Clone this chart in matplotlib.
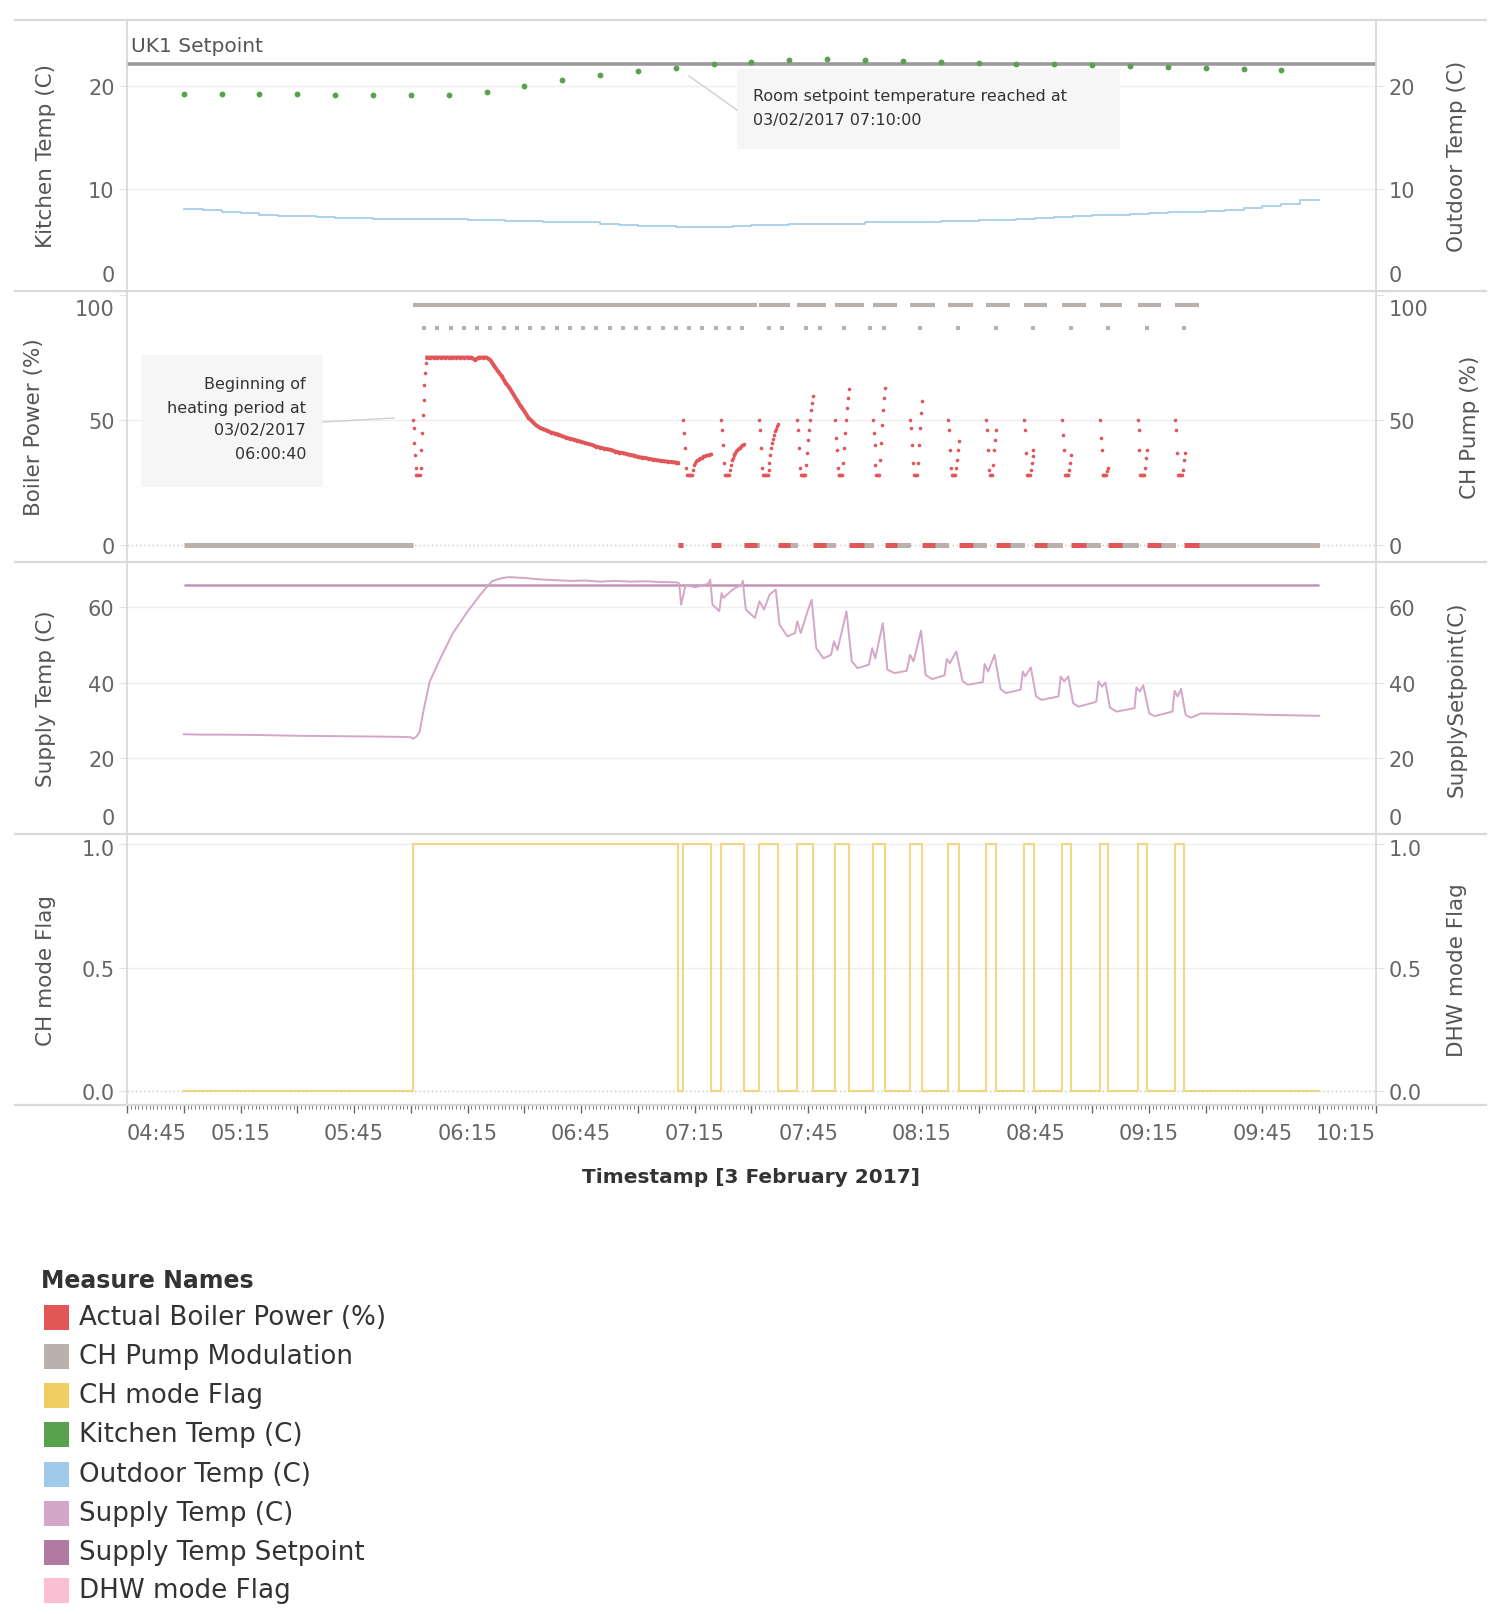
import numpy as np
import matplotlib
matplotlib.use("Agg")
import matplotlib.pyplot as plt
from matplotlib.patches import Rectangle
from matplotlib.lines import Line2D
from matplotlib.transforms import ScaledTranslation

W, H = 1497, 1615

# colours (tableau palette)
c_boiler = '#e15759'
c_pump = '#bab0ac'
c_ch = '#f1ce63'
c_kitchen = '#59a14f'
c_outdoor = '#a0cbe8'
c_supply = '#d4a6c8'
c_setp = '#b07aa1'
c_dhw = '#fabfd2'

# ---- data, time in minutes after midnight (3 Feb 2017) ----
kitchen_t = [300, 310, 320, 330, 340, 350, 360, 370, 380, 390, 400, 410, 420, 430, 440,
             450, 460, 470, 480, 490, 500, 510, 520, 530, 540, 550, 560, 570, 580, 590]
kitchen_v = [19.3, 19.3, 19.3, 19.3, 19.2, 19.2, 19.2, 19.2, 19.5, 20.0, 20.6, 21.1, 21.5, 21.8, 22.2,
             22.4, 22.6, 22.7, 22.6, 22.5, 22.4, 22.3, 22.2, 22.2, 22.1, 22.0, 21.9, 21.8, 21.7, 21.6]
outdoor_t = list(range(300, 605, 5))
outdoor_v = [8.0, 7.9, 7.7, 7.6, 7.4, 7.3, 7.3, 7.2, 7.1, 7.1,
             7.0, 7.0, 7.0, 7.0, 7.0, 6.9, 6.9, 6.8, 6.8, 6.7,
             6.7, 6.7, 6.6, 6.5, 6.4, 6.4, 6.3, 6.3, 6.3, 6.4,
             6.5, 6.5, 6.6, 6.6, 6.6, 6.6, 6.7, 6.7, 6.7, 6.7,
             6.8, 6.8, 6.9, 6.9, 7.0, 7.1, 7.2, 7.3, 7.4, 7.4,
             7.5, 7.6, 7.7, 7.7, 7.8, 7.9, 8.1, 8.3, 8.5, 8.9, 8.9]
uk1_setpoint = 22.2

heat_start = 360.67   # 06:00:40
heat_end = 430.5
data_start = 300
data_end = 600

# boiler power during the long heating period
heat_t = [360.67, 360.8, 360.95, 361.1, 361.25, 361.4, 361.7, 362.0, 362.3,
          362.6, 362.8, 363.0, 363.2, 363.4, 363.6, 363.8, 364.0, 364.3] + list(range(365, 431)) + [430.5]
heat_v = [50, 47, 41, 36, 31, 28, 28, 28, 28,
          31, 38, 45, 52, 58, 64, 69, 73, 75,
          75, 75, 75, 75, 75, 75, 75, 75, 75, 75, 75, 75, 74, 75, 75, 75,
          74, 71.7, 69.5, 67.5, 65, 63, 60.5, 58, 55.5, 53.5,
          51, 49.5, 48, 47, 46.3, 45.8, 45, 44.6, 44.2, 43.5,
          43, 42.5, 42.2, 41.7, 41.3, 40.8, 40.4, 40, 39.3, 39,
          38.6, 38.3, 38, 37.4, 37, 36.8, 36.4, 36, 35.8, 35.2,
          35, 34.8, 34.4, 34.2, 33.9, 33.7, 33.5, 33.3, 33.2, 33,
          32.8]

# on/off cycling after the setpoint was reached
cycle_start = [432, 442, 452, 462, 472, 482, 492, 502, 512, 522, 532, 542, 552, 562]
cycle_width = [7.2, 5.9, 5.0, 4.3, 3.8, 3.4, 3.1, 2.8, 2.7, 2.6, 2.4, 2.2, 2.4, 2.4]
cycle_dt = 0.25
cycle_v = [
    [50, 45, 39, 31, 28, 28, 28, 28, 28, 28, 30, 32, 33, 33.5, 34, 34, 34.5, 34.5, 35, 35,
     35, 35.5, 35.5, 35.5, 36, 36, 36, 36, 36.5, 36.5],
    [50, 46, 40, 33, 28, 28, 28, 28, 28, 30, 32, 34, 35, 36, 36.5, 37, 37.5, 38, 38.5, 39,
     39, 39.5, 40, 40, 40.5],
    [50, 46, 39, 31, 28, 28, 28, 28, 28, 28, 30, 33, 36, 39, 41, 42.5, 44, 45.5, 46.5, 47.5, 48.5],
    [50, 46, 39, 31, 28, 28, 28, 28, 28, 28, 32, 37, 42, 46, 50, 54, 57, 59.5],
    [50, 43, 38, 31, 28, 28, 28, 28, 28, 33, 39, 45, 50, 55, 59, 62.5],
    [50, 45, 40, 32, 28, 28, 28, 28, 34, 41, 48, 54, 59, 63],
    [50, 47, 40, 33, 28, 28, 28, 28, 33, 40, 47, 53, 57.5],
    [50, 46, 38, 31, 28, 28, 28, 28, 31, 34, 38, 41.5],
    [50, 46, 38, 30, 28, 28, 28, 32, 38, 42, 46],
    [50, 46, 37, 28, 28, 28, 28, 30, 33, 35.5, 38],
    [50, 44, 38, 28, 28, 28, 28, 28, 30, 33, 36],
    [50, 43, 38, 28, 28, 28, 28, 28, 29.5, 31],
    [50, 46, 38, 28, 28, 28, 28, 28, 31, 35, 38],
    [50, 46, 37, 28, 28, 28, 28, 28, 30, 34, 37],
]

# CH pump modulation
pump_level = 96
pump_first_end = 451.4
pump_on_min = [8.3, 7.6, 7.6, 6.5, 6.6, 6.4, 6.3, 6.0, 6.3, 5.8, 6.2, 6.3]   # cycles 3..14
pump_dot_level = 87
pump_dot_t = [363.5, 367, 370.5, 374, 377.5, 381, 384.5, 388, 391.5, 395, 398.5, 402, 405.5,
              409, 412.5, 416, 419.5, 423, 426.5, 430, 433.5, 437, 440.5, 444, 447.5,
              454.5, 458.1, 464.4, 468.1, 474.4, 481.4, 485.1, 494.6, 504.5, 514.5,
              524.5, 534.4, 544.2, 554.4, 564.3]

# supply temperature
supply_setpoint = 66
supply_t = [300, 305, 310, 320, 330, 340, 350, 358, 360, 360.6, 361.5, 362.3, 363.4, 365, 367.8,
            371, 374.9, 378.7, 381.4, 383.5, 385.8, 389.6, 394, 398, 402, 406, 410, 414, 418,
            422, 426, 430.3, 430.9, 431.4, 432.6, 435.0, 438.5, 439.1, 439.7, 441.5, 442.1,
            442.6, 445.0, 447.4, 447.7, 448.5, 450.9, 452.1, 453.3, 454.8, 456.4, 457.4, 459.5,
            461.5, 462.1, 463.0, 465.1, 465.9, 467.1, 469.0, 471.0, 471.8, 472.7, 475.1, 476.5,
            478.0, 481.0, 481.9, 482.7, 484.7, 485.9, 487.8, 491.0, 491.9, 492.8, 494.8, 496.0,
            497.7, 501.0, 501.6, 502.4, 504.1, 505.8, 507.2, 511.1, 511.6, 512.5, 514.2, 515.8,
            517.2, 521.1, 521.7, 522.3, 523.8, 525.2, 526.6, 531.1, 531.7, 532.6, 533.7, 535.0,
            536.4, 541.1, 541.7, 542.6, 543.5, 544.7, 546.4, 551.2, 551.7, 552.6, 553.5, 555.1,
            556.5, 561.2, 561.8, 562.6, 563.5, 564.7, 566.1, 568.8, 576.5, 588.3, 598.9, 600]
supply_v = [26.4, 26.3, 26.3, 26.2, 26.0, 25.9, 25.8, 25.7, 25.6, 25.2, 25.8, 27.0, 33.0, 40.4, 46.5,
            53.0, 58.8, 63.8, 66.9, 67.6, 68.0, 67.8, 67.4, 67.2, 67.0, 67.1, 66.8, 67.0, 66.8,
            66.9, 66.7, 66.6, 66.3, 60.7, 65.9, 65.3, 66.2, 67.3, 60.7, 59.0, 63.8,
            62.5, 64.7, 66.0, 67.0, 59.4, 57.2, 61.6, 59.4, 63.4, 64.7, 55.4, 52.3,
            53.2, 56.3, 53.2, 59.8, 62.0, 49.2, 46.5, 47.4, 51.0, 48.7, 58.9, 45.7,
            43.9, 44.8, 49.2, 46.5, 55.8, 43.5, 42.6, 43.2, 47.4, 45.7, 53.8, 42.1,
            41.0, 42.0, 46.3, 45.2, 48.3, 40.4, 39.5, 40.2, 45.0, 43.0, 47.4, 38.4,
            37.3, 38.2, 43.0, 41.7, 44.1, 36.4, 35.5, 36.4, 41.7, 40.4, 41.7, 34.6,
            33.7, 35.0, 40.4, 39.0, 40.1, 33.5, 32.4, 33.3, 38.8, 37.7, 39.4, 31.9,
            31.2, 32.4, 37.9, 36.4, 38.4, 31.5, 30.8, 31.9, 31.8, 31.5, 31.3, 31.3]

xtick_labels = ['04:45', '05:15', '05:45', '06:15', '06:45', '07:15',
                '07:45', '08:15', '08:45', '09:15', '09:45', '10:15']

legend_names = ['Actual Boiler Power (%)', 'CH Pump Modulation', 'CH mode Flag', 'Kitchen Temp (C)',
                'Outdoor Temp (C)', 'Supply Temp (C)', 'Supply Temp Setpoint', 'DHW mode Flag']
legend_colors = [c_boiler, c_pump, c_ch, c_kitchen, c_outdoor, c_supply, c_setp, c_dhw]


def fx(px):
    return px / W


def fy(py):
    return 1 - py / H


fig = plt.figure(figsize=(W / 100, H / 100), dpi=100)
fig.patch.set_facecolor('white')

ax_left, ax_right = 127, 1376
borders = [21, 292, 563, 835, 1106]
axes = []
for i in range(4):
    ax = fig.add_axes([fx(ax_left), fy(borders[i + 1]), fx(ax_right) - fx(ax_left),
                       (borders[i + 1] - borders[i]) / H])
    ax.set_facecolor('none')
    ax.set_xlim(285, 615)
    for s in ['top', 'bottom']:
        ax.spines[s].set_visible(False)
    for s in ['left', 'right']:
        ax.spines[s].set_color('#d6d6d6')
        ax.spines[s].set_linewidth(1.2)
    ax.tick_params(axis='y', which='both', left=True, right=True, labelleft=True, labelright=True,
                   length=6, color='#e2e2e2', labelsize=15, labelcolor='#666666', pad=3)
    ax.tick_params(axis='x', which='both', bottom=False, labelbottom=False)
    axes.append(ax)
ax1, ax2, ax3, ax4 = axes

# separators across the full width
for b in borders:
    fig.add_artist(Line2D([fx(15), fx(1486)], [fy(b), fy(b)], color='#d9d9d9', lw=1.6))


def grid(ax, vals):
    for v in vals:
        ax.axhline(v, color='#efefef', lw=1, zorder=0.5)


# ---- panel 1: kitchen / outdoor ----
ax1.set_ylim(0, 26.5)
grid(ax1, [10, 20])
ax1.plot(outdoor_t, outdoor_v, color=c_outdoor, lw=1.2, drawstyle='steps-post', zorder=2)
ax1.axhline(uk1_setpoint, color='#9b9b9b', lw=2.6, zorder=2)
ax1.plot(kitchen_t, kitchen_v, 'o', color=c_kitchen, ms=4.2, mew=0, zorder=3)
ax1.set_yticks([0, 10, 20], ['0', '10', '20'])
ax1.text(fx(131), fy(46), 'UK1 Setpoint', transform=fig.transFigure, fontsize=14.5,
         color='#555555', va='center', ha='left')

# ---- panel 2: boiler power / pump ----
ax2.set_ylim(-6.8, 101.6)
grid(ax2, [50])
ax2.axhline(0, color='#c4c4c4', lw=1, ls=(0, (1, 2)), zorder=0.6)

off_a = [heat_end] + [s + w for s, w in zip(cycle_start, cycle_width)]
off_b = cycle_start + [data_end]
ax2.hlines([0] * len(off_a), off_a, off_b, color=c_boiler, lw=3.6, zorder=2)

pump_a = [heat_start] + cycle_start[2:]
pump_b = [pump_first_end] + [s + on for s, on in zip(cycle_start[2:], pump_on_min)]
ax2.hlines([pump_level] * len(pump_a), pump_a, pump_b, color=c_pump, lw=3, zorder=2)
zero_a = [data_start, pump_first_end] + pump_b[1:]
zero_b = [heat_start, cycle_start[2]] + cycle_start[3:] + [data_end]
ax2.hlines([0] * len(zero_a), zero_a, zero_b, color=c_pump, lw=3.6, zorder=2.5)
ax2.plot(pump_dot_t, [pump_dot_level] * len(pump_dot_t), 's', color=c_pump, ms=2.6, mew=0, zorder=2)

heat_t = np.array(heat_t, dtype=float)
heat_v = np.array(heat_v, dtype=float)
dense = heat_t >= 364.3
ax2.plot(heat_t[dense], heat_v[dense], color=c_boiler, lw=2.8, zorder=3)
ax2.plot(heat_t, heat_v, 'o', color=c_boiler, ms=2.6, mew=0, zorder=3)
for s, vals in zip(cycle_start, cycle_v):
    t = s + cycle_dt * np.arange(len(vals))
    ax2.plot(t, vals, 'o', color=c_boiler, ms=2.6, mew=0, zorder=3)
ax2.set_yticks([0, 50, 100], ['0', '50', '100'])

# ---- panel 3: supply temperature ----
ax3.set_ylim(0, 72)
grid(ax3, [20, 40, 60])
ax3.hlines(supply_setpoint, data_start, data_end, color=c_setp, lw=1.8, alpha=0.8, zorder=2)
ax3.plot(supply_t, supply_v, color=c_supply, lw=1.4, zorder=3)
ax3.set_yticks([0, 20, 40, 60], ['0', '20', '40', '60'])

# ---- panel 4: CH / DHW flags (DHW stays at 0, hidden under the zero line) ----
ax4.set_ylim(-0.056, 1.04)
grid(ax4, [0.5, 1.0])
ax4.axhline(0, color='#c4c4c4', lw=1, ls=(0, (1, 2)), zorder=0.6)
flag_t = [data_start, heat_start, heat_end]
flag_v = [0, 1, 0]
for s, w in zip(cycle_start, cycle_width):
    flag_t += [s, s + w]
    flag_v += [1, 0]
flag_t.append(data_end)
flag_v.append(0)
ax4.plot(flag_t, flag_v, color=c_ch, lw=1.5, alpha=0.8, drawstyle='steps-post', zorder=3)
ax4.set_yticks([0, 0.5, 1.0], ['0.0', '0.5', '1.0'])

# x axis ruler
ax4.set_xticks(list(range(285, 616, 15)))
ax4.set_xticks(list(range(285, 616, 1)), minor=True)
lab = []
for i in range(len(range(285, 616, 15))):
    lab.append(xtick_labels[i // 2] if i % 2 == 0 else '')
ax4.set_xticklabels(lab)
ax4.tick_params(axis='x', which='major', bottom=True, labelbottom=True, length=6, width=1,
                color='#666666', labelsize=15, labelcolor='#666666', pad=7)
ax4.tick_params(axis='x', which='minor', bottom=True, length=3, width=0.7, color='#777777')
xt = ax4.xaxis.get_major_ticks()
xt[0].label1.set_ha('left')
xt[-1].label1.set_ha('right')

fig.text(fx(751), fy(1178), 'Timestamp [3 February 2017]', fontsize=14.5, fontweight='bold',
         color='#333333', ha='center', va='center')

# axis titles
left_titles = ['Kitchen Temp (C)', 'Boiler Power (%)', 'Supply Temp (C)', 'CH mode Flag']
right_titles = ['Outdoor Temp (C)', 'CH Pump (%)', 'SupplySetpoint(C)', 'DHW mode Flag']
left_x = [46, 34, 46, 46]
right_x = [1457, 1470, 1457, 1457]
for ax, lt, rt, lx, rx in zip(axes, left_titles, right_titles, left_x, right_x):
    ax.text((lx - ax_left) / (ax_right - ax_left), 0.5, lt, transform=ax.transAxes, rotation=90,
            ha='center', va='center', fontsize=15.5, color='#555555')
    ax.text((rx - ax_left) / (ax_right - ax_left), 0.5, rt, transform=ax.transAxes, rotation=90,
            ha='center', va='center', fontsize=15.5, color='#555555')


# tableau keeps edge labels inside the pane
def nudge(ax, idx, dy_pt, va):
    tk = ax.yaxis.get_major_ticks()[idx]
    for lb in (tk.label1, tk.label2):
        lb.set_va(va)
        lb.set_transform(lb.get_transform() + ScaledTranslation(0, dy_pt / 72, fig.dpi_scale_trans))


nudge(ax1, 0, 4, 'bottom')
nudge(ax2, 2, -3, 'top')
nudge(ax3, 0, 4, 'bottom')
nudge(ax4, 2, -4, 'center')

# annotations
ax1.add_patch(Rectangle((fx(737), fy(150)), fx(1120) - fx(737), (150 - 70) / H,
                        transform=fig.transFigure, facecolor='#f6f6f6', edgecolor='none',
                        zorder=1, clip_on=False))
ax1.add_line(Line2D([fx(689), fx(737)], [fy(77), fy(111)], transform=fig.transFigure,
                    color='#cfcfcf', lw=1, zorder=1, clip_on=False))
ax1.text(fx(753), fy(97), 'Room setpoint temperature reached at', transform=fig.transFigure,
         fontsize=11.5, color='#333333', va='center', ha='left', zorder=4)
ax1.text(fx(753), fy(121), '03/02/2017 07:10:00', transform=fig.transFigure,
         fontsize=11.5, color='#333333', va='center', ha='left', zorder=4)

ax2.add_patch(Rectangle((fx(141), fy(488)), fx(323) - fx(141), (488 - 356) / H,
                        transform=fig.transFigure, facecolor='#f6f6f6', edgecolor='none',
                        zorder=1, clip_on=False))
ax2.add_line(Line2D([fx(323), fx(394)], [fy(423), fy(419)], transform=fig.transFigure,
                    color='#cfcfcf', lw=1, zorder=1, clip_on=False))
for txt, yy in zip(['Beginning of', 'heating period at', '03/02/2017', '06:00:40'], [384, 408, 431, 455]):
    ax2.text(fx(306), fy(yy), txt, transform=fig.transFigure, fontsize=11.5, color='#333333',
             va='center', ha='right', zorder=4)

# legend
fig.text(fx(41), fy(1281), 'Measure Names', fontsize=17, fontweight='bold', color='#333333',
         ha='left', va='center')
row_y = [1318, 1357, 1396, 1435, 1475, 1514, 1553, 1591]
for name, col, yy in zip(legend_names, legend_colors, row_y):
    fig.add_artist(Rectangle((fx(44), fy(yy + 12.5)), 25 / W, 25 / H, transform=fig.transFigure,
                             facecolor=col, edgecolor='none'))
    fig.text(fx(79), fy(yy), name, fontsize=18.8, color='#333333', ha='left', va='center')

fig.savefig('out.png', dpi=100, facecolor='white')
